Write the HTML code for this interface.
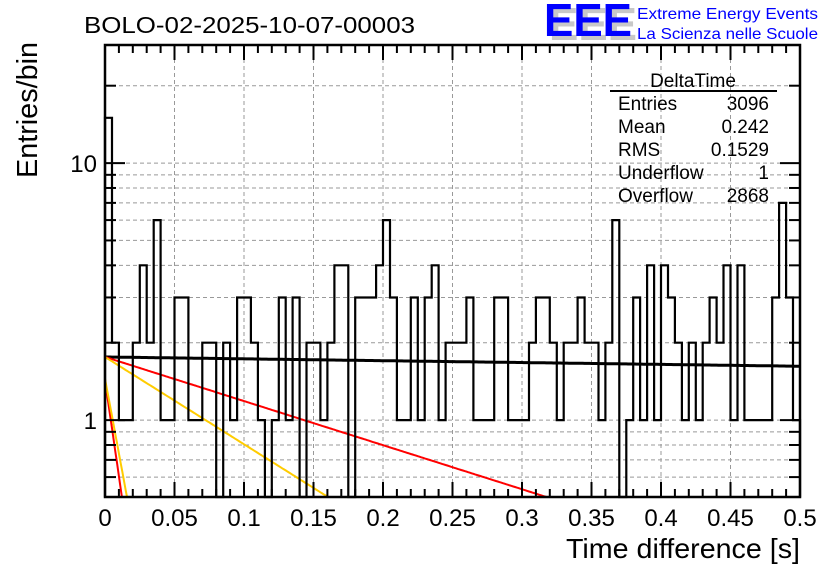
<!DOCTYPE html>
<html><head><meta charset="utf-8"><style>
body{margin:0;background:#fff;}
svg{display:block;font-family:"Liberation Sans",Arial,sans-serif;}
</style></head><body>
<svg id="chart" width="836" height="572" viewBox="0 0 836 572" xmlns="http://www.w3.org/2000/svg">
<rect width="836" height="572" fill="#fff"/>
<g id="grid"></g>
<g id="fits"></g>
<g id="hist"></g>
<g id="axes"></g>
<text x="84" y="33" font-size="23" textLength="331" lengthAdjust="spacingAndGlyphs">BOLO-02-2025-10-07-00003</text>
<text transform="translate(37,178) rotate(-90)" font-size="29" textLength="136" lengthAdjust="spacingAndGlyphs">Entries/bin</text>
<text x="800" y="558" font-size="28" text-anchor="end" textLength="234" lengthAdjust="spacingAndGlyphs">Time difference [s]</text>
<g>
<text x="549" y="40" font-size="46" fill="#c8c8c8" font-weight="bold" textLength="88" lengthAdjust="spacingAndGlyphs">EEE</text>
<text x="544" y="36" font-size="46" fill="#0000ff" font-weight="bold" textLength="88" lengthAdjust="spacingAndGlyphs">EEE</text>
<text x="637" y="19" font-size="16" fill="#0000ff" textLength="181" lengthAdjust="spacingAndGlyphs">Extreme Energy Events</text>
<text x="637" y="39" font-size="16" fill="#0000ff" textLength="181" lengthAdjust="spacingAndGlyphs">La Scienza nelle Scuole</text>
</g>
<g font-size="19">
<text x="693" y="87" text-anchor="middle">DeltaTime</text>
<line x1="610" y1="91" x2="777" y2="91" stroke="#000" stroke-width="2"/>
<text x="618" y="110">Entries</text><text x="769" y="110" text-anchor="end">3096</text>
<text x="618" y="133">Mean</text><text x="769" y="133" text-anchor="end">0.242</text>
<text x="618" y="156">RMS</text><text x="769" y="156" text-anchor="end">0.1529</text>
<text x="618" y="179">Underflow</text><text x="769" y="179" text-anchor="end">1</text>
<text x="618" y="202">Overflow</text><text x="769" y="202" text-anchor="end">2868</text>
</g>
</svg>
<script>
const counts=[15,2,1,1,2,4,2,6,1,1,3,3,1,1,2,2,0,2,1,3,3,2,1,0,1,3,1,3,0,2,2,1,2,4,4,0,3,3,3,4,6,3,1,1,3,1,3,4,1,2,2,2,3,1,1,1,3,3,1,1,1,2,3,3,2,1,2,2,3,2,2,1,2,6,0,1,3,1,4,1,4,3,2,1,2,1,2,3,2,4,1,4,1,1,1,1,3,7,3,1];
const xTicks=[0,0.05,0.1,0.15,0.2,0.25,0.3,0.35,0.4,0.45,0.5];
const xTickLabels=["0","0.05","0.1","0.15","0.2","0.25","0.3","0.35","0.4","0.45","0.5"];
const fitAmps=[1.76,1.76,1.76,1.43,1.45];
const fitRates=[0.166,3.95,7.82,86,67];
const fitColors=["#000","#ff0000","#ffcc00","#ff0000","#ffcc00"];
const X0=105,X1=800,Y0=497,Y1=45,XMAX=0.5,YMIN=0.502,YMAX=28.8;
const NS="http://www.w3.org/2000/svg";
function sx(v){return X0+(X1-X0)*v/XMAX;}
function sy(v){const lv=Math.log10(Math.max(v,YMIN));return Y0-(Y0-Y1)*(lv-Math.log10(YMIN))/(Math.log10(YMAX)-Math.log10(YMIN));}
function mk(tag,attrs,parent){const e=document.createElementNS(NS,tag);for(const k in attrs)e.setAttribute(k,attrs[k]);parent.appendChild(e);return e;}
const grid=document.getElementById('grid'),axes=document.getElementById('axes'),hist=document.getElementById('hist'),fits=document.getElementById('fits');
const yGrid=[0.6,0.7,0.8,0.9,1,2,3,4,5,6,7,8,9,10,20];
yGrid.forEach(v=>{const l=mk('line',{x1:X0,x2:X1,y1:sy(v),y2:sy(v),stroke:'#999','stroke-dasharray':'4,3','stroke-width':1},grid);


const major=(v===1||v===10);const len=major?20:11;
mk('line',{x1:X0,x2:X0+len,y1:sy(v),y2:sy(v),stroke:'#000','stroke-width':2},axes);
mk('line',{x1:X1-len,x2:X1,y1:sy(v),y2:sy(v),stroke:'#000','stroke-width':2},axes);});
xTicks.forEach((v,i)=>{if(i>0&&i<xTicks.length-1){const l=mk('line',{x1:sx(v),x2:sx(v),y1:Y1,y2:Y0,stroke:'#999','stroke-dasharray':'4,3','stroke-width':1},grid);

}
const t=mk('text',{x:sx(v),y:526,'font-size':24,'text-anchor':'middle'},axes);t.textContent=xTickLabels[i];

});
for(let i=0;i<=50;i++){const v=i*0.01;const len=(i%5===0)?15:8;
mk('line',{x1:sx(v),x2:sx(v),y1:Y0,y2:Y0-len,stroke:'#000','stroke-width':2},axes);
mk('line',{x1:sx(v),x2:sx(v),y1:Y1,y2:Y1+len,stroke:'#000','stroke-width':2},axes);}
[[1,"1"],[10,"10"]].forEach(([v,s])=>{const t=mk('text',{x:97,y:sy(v)+9,'font-size':24,'text-anchor':'end'},axes);t.textContent=s;

});
const fr=mk('rect',{x:X0,y:Y1,width:X1-X0,height:Y0-Y1,fill:'none',stroke:'#000','stroke-width':2.5},axes);


fitAmps.forEach((a,j)=>{let d='';for(let k=0;k<=400;k++){const t=XMAX*k/400;const v=a*Math.exp(-fitRates[j]*t);if(v<YMIN){const tb=Math.log(a/YMIN)/fitRates[j];d+='L'+sx(tb).toFixed(1)+','+sy(YMIN).toFixed(1);break;}d+=(k?'L':'M')+sx(t).toFixed(1)+','+sy(v).toFixed(1);}
const p=mk('path',{d:d,fill:'none',stroke:fitColors[j],'stroke-width':j===0?3:2},fits);

});
const bw=XMAX/counts.length;let d='M'+sx(0)+','+sy(YMIN);
counts.forEach((c,i)=>{const y=c>0?sy(c):Y0;d+='L'+sx(i*bw).toFixed(1)+','+y.toFixed(1)+'L'+sx((i+1)*bw).toFixed(1)+','+y.toFixed(1);});
d+='L'+sx(XMAX)+','+Y0;
const hp=mk('path',{d:d,fill:'none',stroke:'#000','stroke-width':2.2},hist);


</script>
</body></html>
